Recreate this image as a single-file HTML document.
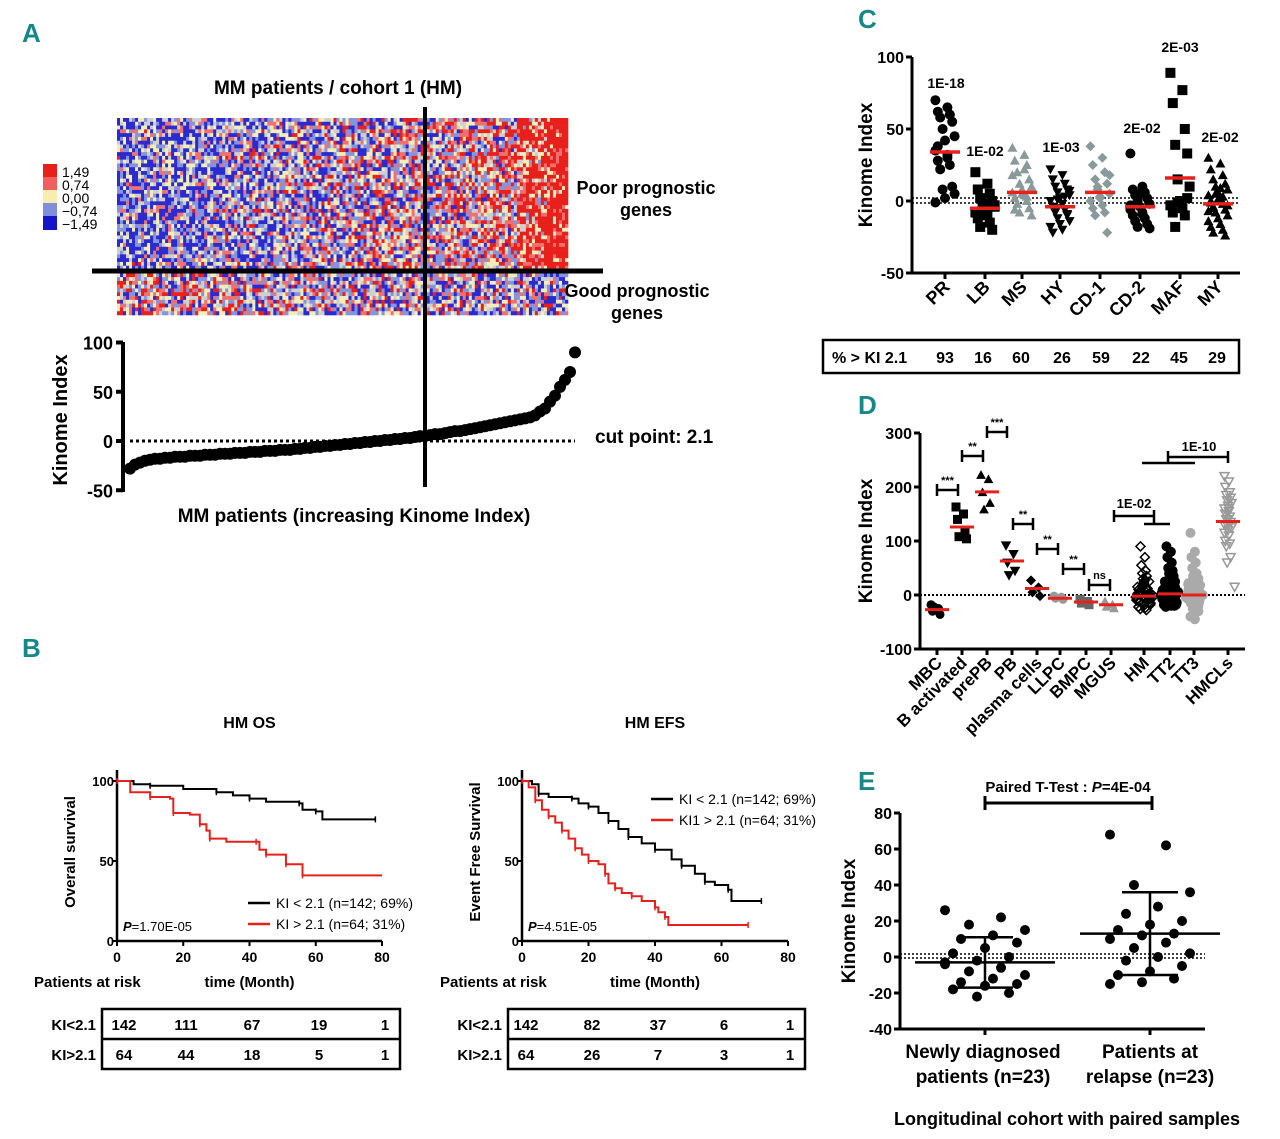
<!DOCTYPE html>
<html><head><meta charset="utf-8"><style>
html,body{margin:0;padding:0;background:#fff}
svg{display:block;font-family:"Liberation Sans",sans-serif}
.b{font-weight:bold}
</style></head><body>
<svg id="s" width="1280" height="1139" viewBox="0 0 1280 1139" xmlns="http://www.w3.org/2000/svg">
<g fill="#16888a" font-size="26" font-weight="bold" font-family="Liberation Sans Narrow,Liberation Sans,sans-serif">
<text x="22" y="42">A</text>
<text x="22" y="657">B</text>
<text x="858" y="28">C</text>
<text x="858" y="414">D</text>
<text x="858" y="790">E</text>
</g>
<text x="338" y="94" font-size="19" class="b" text-anchor="middle">MM patients / cohort 1 (HM)</text>
<g id="heat"></g>
<g font-size="14">
<rect x="43" y="164" width="14" height="13" fill="#e8201c"/><rect x="43" y="177" width="14" height="13" fill="#f06060"/>
<rect x="43" y="190" width="14" height="13" fill="#f5eeb0"/><rect x="43" y="203" width="14" height="13" fill="#7f8fdc"/>
<rect x="43" y="216" width="14" height="14" fill="#1414c8"/>
<text x="62" y="177">1,49</text><text x="62" y="190">0,74</text><text x="62" y="203">0,00</text><text x="62" y="216">−0,74</text><text x="62" y="229">−1,49</text>
</g>
<text x="646" y="194" font-size="18" class="b" text-anchor="middle">Poor prognostic</text>
<text x="646" y="216" font-size="18" class="b" text-anchor="middle">genes</text>
<text x="637" y="297" font-size="18" class="b" text-anchor="middle">Good prognostic</text>
<text x="637" y="319" font-size="18" class="b" text-anchor="middle">genes</text>
<g id="pa"></g>
<line x1="92" y1="271" x2="603" y2="271" stroke="#000" stroke-width="5"/>
<line x1="425" y1="107" x2="425" y2="487" stroke="#000" stroke-width="4"/>
<g id="os"></g>
<g id="efs"></g>
<g id="pc"></g>
<g id="pd"></g>
<g id="pe"></g>
</svg>
<script>
// ---------- data ----------
const kiSorted=[-28,-24,-22,-20,-19,-18,-18,-17,-17,-16,-16,-16,-15,-15,-15,-14,-14,-14,-13,-13,-13,-12,-12,-12,-11,-11,-11,-10,-10,-10,-9,-9,-9,-8,-8,-7,-7,-6,-6,-5,-5,-4,-4,-3,-3,-2,-2,-1,-1,0,0,1,1,2,2,3,3,4,5,5,6,7,7,8,9,10,10,11,12,13,14,15,16,17,18,19,20,21,22,23,24,26,30,33,40,46,55,62,70,90];
const osTicksX=[0,20,40,60,80];const survTicks=[0,50,100];
const osLow=[[0,100],[5,98],[10,97],[20,95],[30,93],[35,91],[40,89],[45,87],[55,86],[56,82],[60,81],[62,76],[78,76]];
const osHigh=[[0,100],[4,93],[10,90],[16,89],[17,80],[22,79],[25,73],[27,69],[28,64],[33,62],[42,62],[43,57],[45,54],[50,54],[51,48],[55,48],[56,41],[80,41]];
const efsLow=[[0,100],[3,98],[5,92],[8,90],[15,89],[17,86],[20,84],[23,80],[26,75],[29,70],[32,65],[36,61],[40,57],[45,51],[48,47],[52,42],[55,37],[58,35],[62,32],[63,25],[72,25]];
const efsHigh=[[0,100],[2,96],[4,88],[6,82],[8,78],[10,74],[12,69],[14,64],[16,58],[18,54],[20,50],[23,48],[25,42],[26,36],[28,33],[30,30],[33,28],[36,25],[40,21],[41,18],[43,15],[44,10],[68,10]];
const riskOS1=[142,111,67,19,1];const riskOS2=[64,44,18,5,1];
const riskEFS1=[142,82,37,6,1];const riskEFS2=[64,26,7,3,1];
const cCats=['PR','LB','MS','HY','CD-1','CD-2','MAF','MY'];
const cMeans=[34,-5,6,-4,6,-4,16,-2];
const cPvals=['1E-18','1E-02','','1E-03','','2E-02','2E-03','2E-02'];
const cPct=[93,16,60,26,59,22,45,29];
const cPR=[70,65,62,60,58,55,50,45,42,35,32,28,25,22,10,8,5,2,-1,30,38,60];
const cLB=[20,12,8,5,2,0,-2,-4,-6,-8,-10,-12,-15,-18,-20,-7,-3,-9];
const cMS=[37,32,28,25,20,15,12,10,8,6,4,2,0,-2,-5,-8,-10,5,18,22,-6,3];
const cHY=[22,18,15,12,10,8,6,4,2,0,-2,-4,-6,-8,-10,-12,-14,-16,-18,-20,-22,3,-5,-9,1,7];
const cCD1=[38,30,25,20,15,12,8,5,2,0,-3,-5,-8,-10,-22,10,18,3];
const cCD2=[33,10,8,6,4,2,0,-2,-4,-6,-8,-10,-12,-14,-16,-18,-19,5,-3,-9];
const cMAF=[89,77,68,50,39,33,15,10,0,-3,-5,-8,-10,-18,2,-1];
const cMY=[30,26,22,18,15,12,10,8,6,4,2,0,-2,-4,-6,-8,-10,-12,-14,-16,-18,-20,-22,-24,5,-3,1,-7,9,-1,3,-5];
const cVals=[cPR,cLB,cMS,cHY,cCD1,cCD2,cMAF,cMY];
const dCats=['MBC','B activated','prePB','PB','plasma cells','LLPC','BMPC','MGUS','HM','TT2','TT3','HMCLs'];
const dMeans=[-27,126,191,63,12,-6,-13,-18,-2,2,0,136];
const dMBC=[-18,-25,-30,-36,-22];const dBA=[163,150,140,115,108,104];const dPre=[222,214,190,170,158];
const dPB=[92,76,60,45,37];const dPC=[27,14,5,-2];const dLL=[-2,-4,-6,-8];const dBM=[-8,-12,-15,-18];const dMG=[-12,-18,-22,-25];
const dHM=[90,70,55,45,40,35,30,25,20,15,12,10,8,6,4,2,0,-2,-4,-6,-8,-10,-12,-14,-16,-18,-20,-22,-24,-26,-28,5,-5,15,-15,25,-10,0,3,-3,8,-8,18,-18,22,-22,28,-12,12,1,-1,6,-6,9,-9];
const dTT2=[90,80,70,60,50,45,40,35,30,25,20,15,12,10,8,6,4,2,0,-2,-4,-6,-8,-10,-12,-14,-16,-18,-20,-22,5,-5,15,-15,25,0,3,-3,10,-10,20,-20,18,-18,7,-7,1,-1,13,-13,22,-12,6,-6,9,-9];
const dTT3=[115,80,70,60,50,40,35,30,25,20,15,10,8,6,4,2,0,-2,-4,-6,-8,-10,-15,-20,-25,-30,-35,-40,-45,5,-5,12,-12,0,18,-18,22,-22,3,-3,7,-7];
const dHMCL=[220,210,200,190,185,180,175,170,165,160,155,150,145,140,135,130,125,120,115,110,100,95,90,70,60,15,140,130,160,150];
const dVals=[dMBC,dBA,dPre,dPB,dPC,dLL,dBM,dMG,dHM,dTT2,dTT3,dHMCL];
const dFill=['#000','#000','#000','#000','#000','#999','#666','#999','none','#000','#aaa','none'];
const dStroke=['#000','#000','#000','#000','#000','#999','#666','#999','#000','#000','#aaa','#999'];
const eNew=[26,22,18,15,12,10,8,5,2,0,-2,-4,-6,-8,-10,-12,-14,-15,-16,-18,-20,-22,-3];
const eRel=[68,62,40,36,28,24,20,18,15,13,12,10,8,5,2,0,-2,-5,-8,-10,-12,-14,-15];
const eMean=[-3,13];const eSD=[14,23];
// ---------- helpers ----------
const NS='http://www.w3.org/2000/svg';
function mk(p,tag,at,txt){const e=document.createElementNS(NS,tag);for(const k in at)e.setAttribute(k,at[k]);if(txt!==undefined)e.textContent=txt;p.appendChild(e);return e;}
// ---------- heatmap (texture) ----------
(function(){const g=document.getElementById('heat');let seed=7;function rnd(){seed=(seed*16807)%2147483647;return seed/2147483647;}
const cols=150,rows=52,x0=117,y0=118,w=451,h=197,cw=w/cols,rh=h/rows;
const pal=['#2a2ad0','#8494de','#f3edb8','#cfcfcf','#f07070','#e8201c'];
for(let r=0;r<rows;r++){const good=r>=Math.round(rows*153/197);const rowBias=(r%7==3)?0.25:0;for(let c=0;c<cols;c++){const t=c/cols;let v=rnd()*2.4-1.2+rowBias;
if(!good){v+=(t-0.55)*1.0+(t>0.88?0.55:0)+(t>0.95?0.35:0);}else{v+=(0.5-t)*0.5;}
let col=v>0.85?pal[5]:v>0.5?pal[4]:v>0.1?pal[2]:v>-0.2?pal[3]:v>-0.65?pal[1]:pal[0];
const e=mk(g,'rect',{x:(x0+c*cw).toFixed(2),y:(y0+r*rh).toFixed(2),width:(cw+0.3).toFixed(2),height:(rh+0.3).toFixed(2),fill:col});

}}})();
// ---------- panel A scatter ----------
(function(){const g=document.getElementById('pa');const ya=v=>441-v*0.985;const xa=i=>130+i*(575-130)/(kiSorted.length-1);
mk(g,'line',{x1:123,y1:342,x2:123,y2:492,stroke:'#000','stroke-width':4});
[100,50,0,-50].forEach(t=>{mk(g,'line',{x1:116,y1:ya(t),x2:123,y2:ya(t),stroke:'#000','stroke-width':4});
const e=mk(g,'text',{x:113,y:ya(t)+7,'text-anchor':'end','font-size':18,'font-weight':'bold'},t);});
mk(g,'line',{x1:130,y1:441,x2:575,y2:441,stroke:'#000','stroke-width':3,'stroke-dasharray':'3,3'});
kiSorted.forEach((v,i)=>{const e=mk(g,'circle',{cx:xa(i),cy:ya(v),r:6,fill:'#000'});});
mk(g,'text',{x:595,y:443,'font-size':19,'font-weight':'bold'},'cut point: 2.1');
mk(g,'text',{x:354,y:522,'font-size':19,'font-weight':'bold','text-anchor':'middle'},'MM patients (increasing Kinome Index)');
mk(g,'text',{x:0,y:0,'font-size':20,'font-weight':'bold','text-anchor':'middle',transform:'translate(67,420) rotate(-90)'},'Kinome Index');})();
// ---------- KM ----------
function km(id,x0,x1,title,ylab,low,high,p,legX,legY,leg2,r1,r2,box0,box1,rx){
const g=document.getElementById(id);const xs=t=>x0+t*(x1-x0)/80;const ys=v=>941-v*1.6;
mk(g,'text',{x:(x0+x1)/2,y:728,'font-size':16,'font-weight':'bold','text-anchor':'middle'},title);
mk(g,'line',{x1:x0,y1:770,x2:x0,y2:941,stroke:'#000','stroke-width':2.5});
mk(g,'line',{x1:x0,y1:941,x2:x1,y2:941,stroke:'#000','stroke-width':2.5});
survTicks.forEach(t=>{mk(g,'line',{x1:x0-4,y1:ys(t),x2:x0,y2:ys(t),stroke:'#000','stroke-width':2});mk(g,'text',{x:x0-3,y:ys(t)+5,'font-size':13,'font-weight':'bold','text-anchor':'end'},t);});
osTicksX.forEach(t=>{mk(g,'line',{x1:xs(t),y1:941,x2:xs(t),y2:946,stroke:'#000','stroke-width':2});mk(g,'text',{x:xs(t),y:962,'font-size':14,'font-weight':'bold','text-anchor':'middle'},t);});
[[low,'#000'],[high,'#e8201c']].forEach(([d,c])=>{let s='M'+xs(d[0][0])+','+ys(d[0][1]);for(let i=1;i<d.length;i++){s+=' H'+xs(d[i][0])+' V'+ys(d[i][1]);}
const e=mk(g,'path',{d:s,fill:'none',stroke:c,'stroke-width':2});
d.forEach((q,i)=>{if(i%2==0)mk(g,'line',{x1:xs(q[0]),y1:ys(q[1])-3,x2:xs(q[0]),y2:ys(q[1])+3,stroke:c,'stroke-width':1.5});});});
mk(g,'text',{x:0,y:0,'font-size':15,'font-weight':'bold','text-anchor':'middle',transform:`translate(${x0-42},852) rotate(-90)`},ylab);
const pt=mk(g,'text',{x:x0+6,y:931,'font-size':13});mk(pt,'tspan',{'font-style':'italic','font-weight':'bold'},'P');mk(pt,'tspan',{},p);
mk(g,'line',{x1:legX,y1:legY-5,x2:legX+22,y2:legY-5,stroke:'#000','stroke-width':2.5});mk(g,'text',{x:legX+28,y:legY,'font-size':14},'KI < 2.1 (n=142; 69%)');
mk(g,'line',{x1:legX,y1:legY+16,x2:legX+22,y2:legY+16,stroke:'#e8201c','stroke-width':2.5});mk(g,'text',{x:legX+28,y:legY+21,'font-size':14},leg2);
mk(g,'text',{x:box0-68,y:987,'font-size':15,'font-weight':'bold'},'Patients at risk');
mk(g,'text',{x:(x0+x1)/2,y:987,'font-size':15,'font-weight':'bold','text-anchor':'middle'},'time (Month)');
const tb=mk(g,'g',{});
mk(tb,'rect',{x:box0,y:1009,width:box1-box0,height:60,fill:'none',stroke:'#000','stroke-width':2.5});
mk(tb,'line',{x1:box0,y1:1039,x2:box1,y2:1039,stroke:'#000','stroke-width':2.5});
mk(tb,'text',{x:box0-6,y:1030,'font-size':15,'font-weight':'bold','text-anchor':'end'},'KI<2.1');
mk(tb,'text',{x:box0-6,y:1060,'font-size':15,'font-weight':'bold','text-anchor':'end'},'KI>2.1');
r1.forEach((v,i)=>mk(tb,'text',{x:rx[i],y:1030,'font-size':15,'font-weight':'bold','text-anchor':'middle'},v));
r2.forEach((v,i)=>mk(tb,'text',{x:rx[i],y:1060,'font-size':15,'font-weight':'bold','text-anchor':'middle'},v));}
km('os',117,382,'HM OS','Overall survival',osLow,osHigh,'=1.70E-05',248,908,'KI > 2.1 (n=64; 31%)',riskOS1,riskOS2,102,400,[124,186,252,319,385]);
km('efs',522,788,'HM EFS','Event Free Survival',efsLow,efsHigh,'=4.51E-05',651,804,'KI1 > 2.1 (n=64; 31%)',riskEFS1,riskEFS2,508,805,[526,592,658,724,790]);
// ---------- markers ----------
function marker(g,shape,x,y,s,fill,stroke){let e;
if(shape=='c')e=mk(g,'circle',{cx:x,cy:y,r:s,fill:fill,stroke:stroke});
else if(shape=='s')e=mk(g,'rect',{x:x-s,y:y-s,width:2*s,height:2*s,fill:fill,stroke:stroke});
else if(shape=='t')e=mk(g,'path',{d:`M${x},${y-s} L${x+s},${y+s*0.8} L${x-s},${y+s*0.8}Z`,fill:fill,stroke:stroke});
else if(shape=='v')e=mk(g,'path',{d:`M${x},${y+s} L${x+s},${y-s*0.8} L${x-s},${y-s*0.8}Z`,fill:fill,stroke:stroke,'stroke-width':1.5});
else e=mk(g,'path',{d:`M${x},${y-s} L${x+s},${y} L${x},${y+s} L${x-s},${y}Z`,fill:fill,stroke:stroke,'stroke-width':1.5});
}
function spread(i){return ((i*5)%9-4);}
// ---------- panel C ----------
(function(){const g=document.getElementById('pc');const ya=v=>201-v*1.44;const cx=[945,985,1022,1060,1100,1140,1180,1218];
mk(g,'line',{x1:912,y1:57,x2:912,y2:273,stroke:'#000','stroke-width':3});mk(g,'line',{x1:912,y1:273,x2:1240,y2:273,stroke:'#000','stroke-width':3});
[100,50,0,-50].forEach(t=>{mk(g,'line',{x1:906,y1:ya(t),x2:912,y2:ya(t),stroke:'#000','stroke-width':3});mk(g,'text',{x:904,y:ya(t)+6,'font-size':16,'font-weight':'bold','text-anchor':'end'},t);});
mk(g,'line',{x1:912,y1:198,x2:1240,y2:198,stroke:'#000','stroke-width':1.5,'stroke-dasharray':'2,2'});
mk(g,'line',{x1:912,y1:203,x2:1240,y2:203,stroke:'#000','stroke-width':1.5,'stroke-dasharray':'2,2'});
mk(g,'text',{x:0,y:0,'font-size':19,'font-weight':'bold','text-anchor':'middle',transform:'translate(872,165) rotate(-90)'},'Kinome Index');
const shp=['c','s','t','v','d','c','s','t'];const fc=['#000','#000','#8a9a9c','#000','#8a9a9c','#000','#000','#000'];
cVals.forEach((arr,k)=>{arr.forEach((v,i)=>marker(g,shp[k],cx[k]+spread(i)*2.4,ya(v),5,fc[k],'none'));
mk(g,'line',{x1:cx[k]-15,y1:ya(cMeans[k]),x2:cx[k]+15,y2:ya(cMeans[k]),stroke:'#e8201c','stroke-width':3.5});
mk(g,'line',{x1:cx[k],y1:273,x2:cx[k],y2:279,stroke:'#000','stroke-width':3});
mk(g,'text',{x:0,y:0,'font-size':18,'font-weight':'bold','text-anchor':'end',transform:`translate(${cx[k]+6},288) rotate(-45)`},cCats[k]);});
const pv=[[946,88],[985,156],null,[1061,152],null,[1142,133],[1180,52],[1220,142]];
cPvals.forEach((p,k)=>{if(p)mk(g,'text',{x:pv[k][0],y:pv[k][1],'font-size':14,'font-weight':'bold','text-anchor':'middle'},p);});
mk(g,'rect',{x:823,y:340,width:416,height:33,fill:'none',stroke:'#000','stroke-width':2.5});
mk(g,'text',{x:832,y:363,'font-size':16,'font-weight':'bold'},'% > KI 2.1');
const px=[945,983,1021,1062,1101,1141,1179,1217];
cPct.forEach((v,k)=>mk(g,'text',{x:px[k],y:363,'font-size':16,'font-weight':'bold','text-anchor':'middle'},v));})();
// ---------- panel D ----------
(function(){const g=document.getElementById('pd');const ya=v=>595-v*0.54;const cx=[937,962,987,1012,1037,1060,1086,1111,1144,1170,1194,1228];
mk(g,'line',{x1:920,y1:433,x2:920,y2:649,stroke:'#000','stroke-width':3});mk(g,'line',{x1:920,y1:649,x2:1245,y2:649,stroke:'#000','stroke-width':3});
[300,200,100,0,-100].forEach(t=>{mk(g,'line',{x1:914,y1:ya(t),x2:920,y2:ya(t),stroke:'#000','stroke-width':3});mk(g,'text',{x:912,y:ya(t)+6,'font-size':16,'font-weight':'bold','text-anchor':'end'},t);});
mk(g,'line',{x1:920,y1:595,x2:1245,y2:595,stroke:'#000','stroke-width':2,'stroke-dasharray':'2,2'});
mk(g,'text',{x:0,y:0,'font-size':19,'font-weight':'bold','text-anchor':'middle',transform:'translate(872,541) rotate(-90)'},'Kinome Index');
const shp=['c','s','t','v','d','c','s','t','d','c','c','v'];
dVals.forEach((arr,k)=>{const dense=k>=8;arr.forEach((v,i)=>{const w=dense?Math.max(0.4,(60-Math.abs(v))/60):1;marker(g,shp[k],cx[k]+spread(i)*(dense?2.2*w:1.5),ya(v),dense?4.5:4,dFill[k],dStroke[k]);});
mk(g,'line',{x1:cx[k]-12,y1:ya(dMeans[k]),x2:cx[k]+12,y2:ya(dMeans[k]),stroke:'#e8201c','stroke-width':3});
mk(g,'line',{x1:cx[k],y1:649,x2:cx[k],y2:655,stroke:'#000','stroke-width':3});
mk(g,'text',{x:0,y:0,'font-size':17,'font-weight':'bold','text-anchor':'end',transform:`translate(${cx[k]+6},664) rotate(-45)`},dCats[k]);});
const br=[[937,958,490,'***'],[962,983,456,'**'],[987,1007,432,'***'],[1013,1033,524,'**'],[1037,1058,549,'**'],[1063,1084,569,'**'],[1089,1110,585,'ns']];
br.forEach(b=>{mk(g,'path',{d:`M${b[0]},${b[2]-6}V${b[2]+6}M${b[0]},${b[2]}H${b[1]}M${b[1]},${b[2]-6}V${b[2]+6}`,stroke:'#000','stroke-width':2.5,fill:'none'});
mk(g,'text',{x:(b[0]+b[1])/2,y:b[2]-6,'font-size':11,'font-weight':'bold','text-anchor':'middle'},b[3]);});
mk(g,'path',{d:'M1114,510V522M1114,516H1154M1154,510V522M1154,516V524M1144,524H1170',stroke:'#000','stroke-width':2.5,fill:'none'});
mk(g,'text',{x:1134,y:508,'font-size':13,'font-weight':'bold','text-anchor':'middle'},'1E-02');
mk(g,'path',{d:'M1142,463H1195M1168,463V451M1168,457H1228M1228,451V463',stroke:'#000','stroke-width':2.5,fill:'none'});
mk(g,'text',{x:1199,y:451,'font-size':13,'font-weight':'bold','text-anchor':'middle'},'1E-10');})();
// ---------- panel E ----------
(function(){const g=document.getElementById('pe');const ya=v=>957-v*1.8;const cx=[985,1150];const ax=900;
mk(g,'line',{x1:ax,y1:813,x2:ax,y2:1029,stroke:'#000','stroke-width':3});mk(g,'line',{x1:ax,y1:1029,x2:1205,y2:1029,stroke:'#000','stroke-width':3});
[80,60,40,20,0,-20,-40].forEach(t=>{mk(g,'line',{x1:ax-6,y1:ya(t),x2:ax,y2:ya(t),stroke:'#000','stroke-width':3});mk(g,'text',{x:ax-8,y:ya(t)+6,'font-size':16,'font-weight':'bold','text-anchor':'end'},t);});
mk(g,'line',{x1:ax,y1:954,x2:1205,y2:954,stroke:'#000','stroke-width':1.5,'stroke-dasharray':'2,2'});
mk(g,'line',{x1:ax,y1:958,x2:1205,y2:958,stroke:'#000','stroke-width':1.5,'stroke-dasharray':'2,2'});
mk(g,'text',{x:0,y:0,'font-size':19,'font-weight':'bold','text-anchor':'middle',transform:'translate(855,921) rotate(-90)'},'Kinome Index');
[eNew,eRel].forEach((arr,k)=>{arr.forEach((v,i)=>marker(g,'c',cx[k]+((i*7)%11-5)*8,ya(v),5,'#000','none'));
const m=eMean[k],s=eSD[k];
mk(g,'path',{d:`M${cx[k]-70},${ya(m)}H${cx[k]+70}M${cx[k]},${ya(m-s)}V${ya(m+s)}M${cx[k]-28},${ya(m+s)}H${cx[k]+28}M${cx[k]-28},${ya(m-s)}H${cx[k]+28}`,stroke:'#000','stroke-width':2.5,fill:'none'});
mk(g,'line',{x1:cx[k],y1:1029,x2:cx[k],y2:1035,stroke:'#000','stroke-width':3});});
mk(g,'path',{d:'M985,796V810M985,803H1152M1152,796V810',stroke:'#000','stroke-width':3,fill:'none'});
const pt=mk(g,'text',{x:1068,y:792,'font-size':15,'font-weight':'bold','text-anchor':'middle'});mk(pt,'tspan',{},'Paired T-Test : ');mk(pt,'tspan',{'font-style':'italic'},'P');mk(pt,'tspan',{},'=4E-04');
mk(g,'text',{x:983,y:1058,'font-size':19,'font-weight':'bold','text-anchor':'middle'},'Newly diagnosed');
mk(g,'text',{x:983,y:1083,'font-size':19,'font-weight':'bold','text-anchor':'middle'},'patients (n=23)');
mk(g,'text',{x:1150,y:1058,'font-size':19,'font-weight':'bold','text-anchor':'middle'},'Patients at');
mk(g,'text',{x:1150,y:1083,'font-size':19,'font-weight':'bold','text-anchor':'middle'},'relapse (n=23)');
mk(g,'text',{x:1067,y:1125,'font-size':18,'font-weight':'bold','text-anchor':'middle'},'Longitudinal cohort with paired samples');})();
</script>
</body></html>
